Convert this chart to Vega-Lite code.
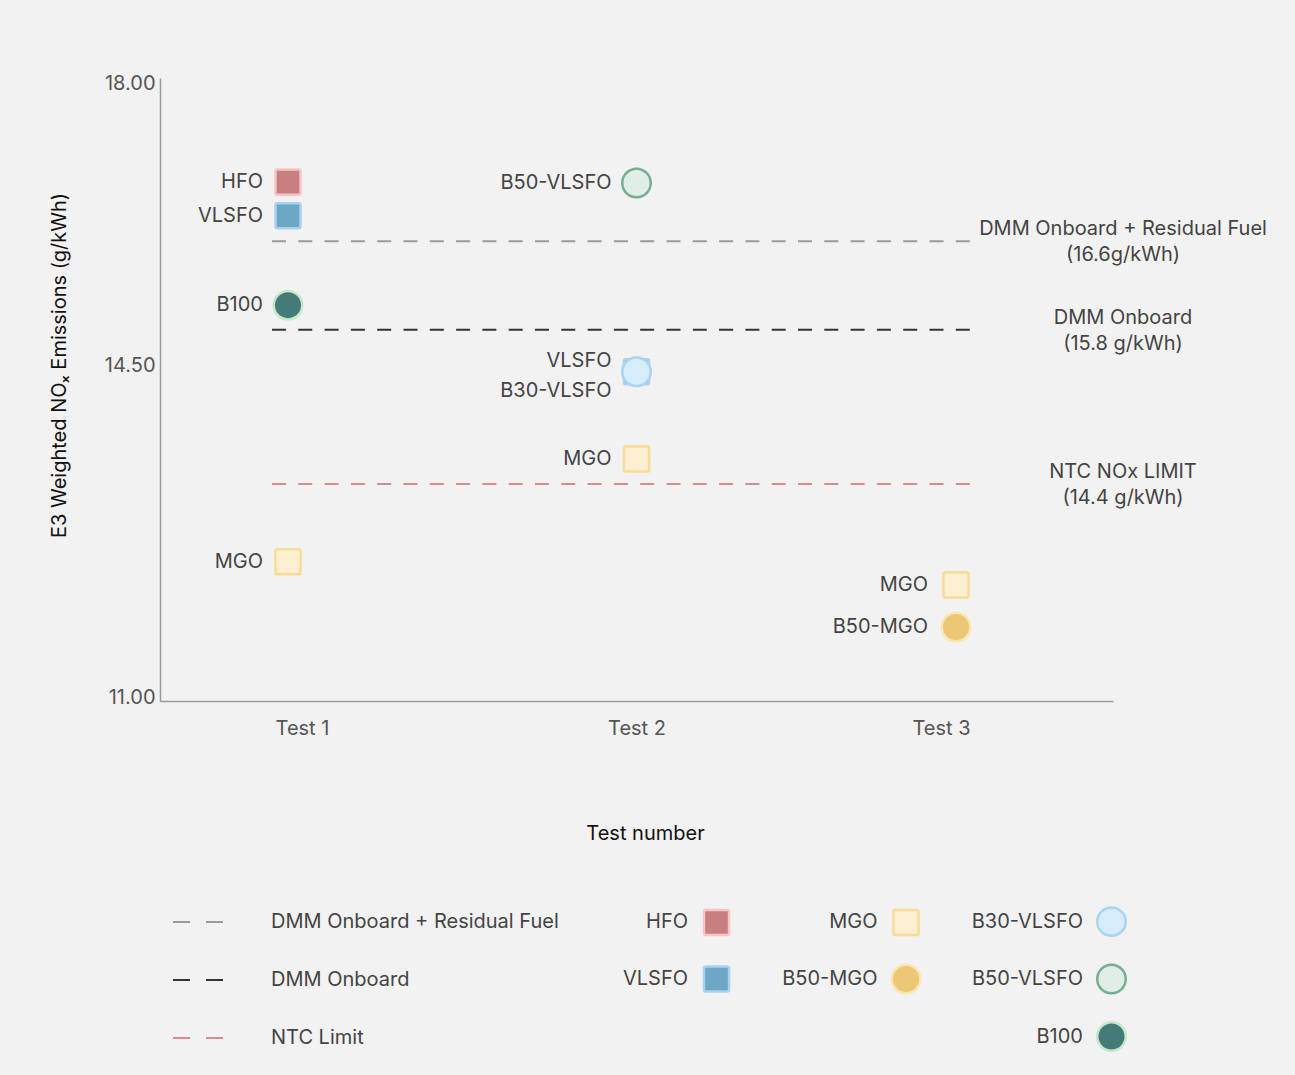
{
  "$schema": "https://vega.github.io/schema/vega-lite/v6.json",
  "width": 953,
  "height": 623,
  "autosize": "none",
  "padding": {"left": 160, "top": 78, "right": 182, "bottom": 374},
  "background": "#f2f2f2",
  "config": {"view": {"stroke": null}, "font": "Inter"},
  "datasets": {
    "fuels": [
      {"test": "Test 1", "fuel": "HFO", "nox": 16.73},
      {"test": "Test 1", "fuel": "VLSFO", "nox": 16.32},
      {"test": "Test 1", "fuel": "B100", "nox": 15.23},
      {"test": "Test 1", "fuel": "MGO", "nox": 12.45},
      {"test": "Test 2", "fuel": "B50-VLSFO", "nox": 16.72},
      {"test": "Test 2", "fuel": "VLSFO", "nox": 14.43},
      {"test": "Test 2", "fuel": "B30-VLSFO", "nox": 14.43},
      {"test": "Test 2", "fuel": "MGO", "nox": 13.52},
      {"test": "Test 3", "fuel": "MGO", "nox": 12.21},
      {"test": "Test 3", "fuel": "B50-MGO", "nox": 11.77}
    ],
    "limits": [
      {"line": "DMM Onboard + Residual Fuel", "label": "DMM Onboard + Residual Fuel\n(16.6g/kWh)", "nox": 16.01},
      {"line": "DMM Onboard", "label": "DMM Onboard\n(15.8 g/kWh)", "nox": 14.93},
      {"line": "NTC Limit", "label": "NTC NOx LIMIT\n(14.4 g/kWh)", "nox": 13.26}
    ]
  },
  "encoding": {
    "y": {
      "field": "nox",
      "type": "quantitative",
      "scale": {"domain": [11, 14.5, 18], "range": [623, 287, 0], "nice": false, "zero": false},
      "axis": {
        "values": [11, 14.5, 18],
        "format": ".2f",
        "title": "E3 Weighted NOₓ Emissions (g/kWh)",
        "grid": false,
        "ticks": false,
        "domainColor": "#9a9a9a",
        "domainWidth": 1.5,
        "labelFont": "Inter",
        "labelFontSize": 20,
        "labelColor": "#555555",
        "labelPadding": 5,
        "labelOverlap": false,
        "labelOffset": {"condition": [{"test": "datum.value == 18", "value": 5}, {"test": "datum.value == 11", "value": -4}], "value": 0},
        "titleFont": "Inter",
        "titleFontSize": 20,
        "titleFontWeight": "normal",
        "titleColor": "#111111",
        "titleX": -101,
        "titleY": 287,
        "titleBaseline": "middle"
      }
    }
  },
  "layer": [
    {
      "data": {"name": "limits"},
      "mark": {"type": "rule", "strokeDash": [14, 12.3], "strokeWidth": 2, "xOffset": -30, "x2Offset": -1},
      "encoding": {
        "x": {"datum": "Test 1", "type": "nominal", "scale": {"type": "point", "domain": ["Test 1", "Test 2", "Test 3"], "padding": 0.4245}},
        "x2": {"datum": "Test 3"},
        "color": {
          "field": "line",
          "type": "nominal",
          "scale": {"domain": ["DMM Onboard + Residual Fuel", "DMM Onboard", "NTC Limit"], "range": ["#9a9a9a", "#333333", "#d98b8b"]},
          "legend": {
            "orient": "none",
            "legendX": 12,
            "legendY": 818,
            "direction": "vertical",
            "title": null,
            "padding": 0,
            "symbolType": "stroke",
            "symbolSize": 2500,
            "symbolDash": [17, 16],
            "symbolStrokeWidth": 2,
            "labelOffset": 47,
            "labelFont": "Inter",
            "labelFontSize": 20,
            "labelColor": "#444444",
            "labelLimit": 400,
            "rowPadding": 22
          }
        }
      }
    },
    {
      "data": {"name": "limits"},
      "mark": {"type": "text", "align": "center", "baseline": "middle", "lineBreak": "\n", "lineHeight": 26, "fontSize": 20, "font": "Inter", "color": "#444444", "dx": 152, "dy": -12},
      "encoding": {
        "x": {"datum": "Test 3", "type": "nominal", "scale": {"type": "point", "domain": ["Test 1", "Test 2", "Test 3"], "padding": 0.4245}},
        "text": {"field": "label"}
      }
    },
    {
      "data": {"name": "fuels"},
      "mark": {"type": "point", "opacity": 1, "strokeWidth": 2.5, "size": 812, "xOffset": {"expr": "datum.test === 'Test 1' ? -14 : datum.test === 'Test 3' ? -15 : 0"}},
      "encoding": {
        "x": {
          "field": "test",
          "type": "nominal",
          "scale": {"type": "point", "domain": ["Test 1", "Test 2", "Test 3"], "padding": 0.4245},
          "axis": {
            "labelFont": "Inter",
            "labelFontSize": 20,
            "labelColor": "#555555",
            "labelPadding": 27,
            "labelAngle": 0,
            "labelAlign": "center",
            "ticks": false,
            "grid": false,
            "domainColor": "#9a9a9a",
            "domainWidth": 1.5,
            "labelOffset": {"condition": {"test": "datum.value === 'Test 3'", "value": -30}, "value": 0},
            "title": "Test number",
            "titleFont": "Inter",
            "titleFontSize": 20,
            "titleFontWeight": "normal",
            "titleColor": "#111111",
            "titleX": 485,
            "titleY": 132,
            "titleBaseline": "middle"
          }
        },
        "shape": {
          "field": "fuel",
          "type": "nominal",
          "scale": {
            "domain": ["HFO", "VLSFO", "_a", "MGO", "B50-MGO", "_b", "B30-VLSFO", "B50-VLSFO", "B100"],
            "range": [
              "M -0.76,-0.88 L 0.76,-0.88 Q 0.88,-0.88 0.88,-0.76 L 0.88,0.76 Q 0.88,0.88 0.76,0.88 L -0.76,0.88 Q -0.88,0.88 -0.88,0.76 L -0.88,-0.76 Q -0.88,-0.88 -0.76,-0.88 Z",
              "M -0.76,-0.88 L 0.76,-0.88 Q 0.88,-0.88 0.88,-0.76 L 0.88,0.76 Q 0.88,0.88 0.76,0.88 L -0.76,0.88 Q -0.88,0.88 -0.88,0.76 L -0.88,-0.76 Q -0.88,-0.88 -0.76,-0.88 Z",
              "circle",
              "M -0.76,-0.88 L 0.76,-0.88 Q 0.88,-0.88 0.88,-0.76 L 0.88,0.76 Q 0.88,0.88 0.76,0.88 L -0.76,0.88 Q -0.88,0.88 -0.88,0.76 L -0.88,-0.76 Q -0.88,-0.88 -0.76,-0.88 Z",
              "circle", "circle", "circle", "circle", "circle"
            ]
          },
          "legend": {
            "orient": "none", "legendX": 541, "legendY": 828, "direction": "vertical", "columns": 3, "title": null, "padding": 0,
            "labelAlign": "right", "labelOffset": -44, "labelFont": "Inter", "labelFontSize": 20, "labelColor": "#444444", "labelLimit": 300,
            "symbolSize": 812, "symbolStrokeWidth": 2.5, "symbolOpacity": 1, "rowPadding": 18.5, "columnPadding": 45.5,
            "labelExpr": "datum.label === '_a' || datum.label === '_b' ? '' : datum.label"
          }
        },
        "fill": {
          "field": "fuel",
          "type": "nominal",
          "scale": {
            "domain": ["HFO", "VLSFO", "_a", "MGO", "B50-MGO", "_b", "B30-VLSFO", "B50-VLSFO", "B100"],
            "range": ["#c97f7f", "#6ea6c6", "transparent", "#fdf0d2", "#ecc775", "transparent", "#d7ecfa", "#e0efe3", "#457b76"]
          },
          "legend": {
            "orient": "none", "legendX": 541, "legendY": 828, "direction": "vertical", "columns": 3, "title": null, "padding": 0,
            "labelAlign": "right", "labelOffset": -44, "labelFont": "Inter", "labelFontSize": 20, "labelColor": "#444444", "labelLimit": 300,
            "symbolSize": 812, "symbolStrokeWidth": 2.5, "symbolOpacity": 1, "rowPadding": 18.5, "columnPadding": 45.5,
            "labelExpr": "datum.label === '_a' || datum.label === '_b' ? '' : datum.label"
          }
        },
        "stroke": {
          "field": "fuel",
          "type": "nominal",
          "scale": {
            "domain": ["HFO", "VLSFO", "_a", "MGO", "B50-MGO", "_b", "B30-VLSFO", "B50-VLSFO", "B100"],
            "range": ["#f5c6c6", "#a9d2ef", "transparent", "#f8dc95", "#fbe6b0", "transparent", "#a9d3ef", "#76ad97", "#c5e7cd"]
          },
          "legend": {
            "orient": "none", "legendX": 541, "legendY": 828, "direction": "vertical", "columns": 3, "title": null, "padding": 0,
            "labelAlign": "right", "labelOffset": -44, "labelFont": "Inter", "labelFontSize": 20, "labelColor": "#444444", "labelLimit": 300,
            "symbolSize": 812, "symbolStrokeWidth": 2.5, "symbolOpacity": 1, "rowPadding": 18.5, "columnPadding": 45.5,
            "labelExpr": "datum.label === '_a' || datum.label === '_b' ? '' : datum.label"
          }
        }
      }
    },
    {
      "data": {"name": "fuels"},
      "transform": [{"filter": "datum.test !== 'Test 2' || (datum.fuel !== 'VLSFO' && datum.fuel !== 'B30-VLSFO')"}],
      "mark": {"type": "text", "align": "right", "baseline": "middle", "fontSize": 20, "font": "Inter", "color": "#444444", "xOffset": {"expr": "datum.test === 'Test 1' ? -39 : datum.test === 'Test 3' ? -43 : -25"}},
      "encoding": {
        "x": {"field": "test", "type": "nominal", "scale": {"type": "point", "domain": ["Test 1", "Test 2", "Test 3"], "padding": 0.4245}},
        "text": {"field": "fuel"}
      }
    },
    {
      "data": {"name": "fuels"},
      "transform": [{"filter": "datum.test === 'Test 2' && datum.fuel === 'VLSFO'"}],
      "mark": {"type": "text", "align": "right", "baseline": "middle", "fontSize": 20, "font": "Inter", "color": "#444444", "dx": -25, "dy": -11},
      "encoding": {
        "x": {"field": "test", "type": "nominal", "scale": {"type": "point", "domain": ["Test 1", "Test 2", "Test 3"], "padding": 0.4245}},
        "text": {"field": "fuel"}
      }
    },
    {
      "data": {"name": "fuels"},
      "transform": [{"filter": "datum.test === 'Test 2' && datum.fuel === 'B30-VLSFO'"}],
      "mark": {"type": "text", "align": "right", "baseline": "middle", "fontSize": 20, "font": "Inter", "color": "#444444", "dx": -25, "dy": 19},
      "encoding": {
        "x": {"field": "test", "type": "nominal", "scale": {"type": "point", "domain": ["Test 1", "Test 2", "Test 3"], "padding": 0.4245}},
        "text": {"field": "fuel"}
      }
    }
  ]
}
